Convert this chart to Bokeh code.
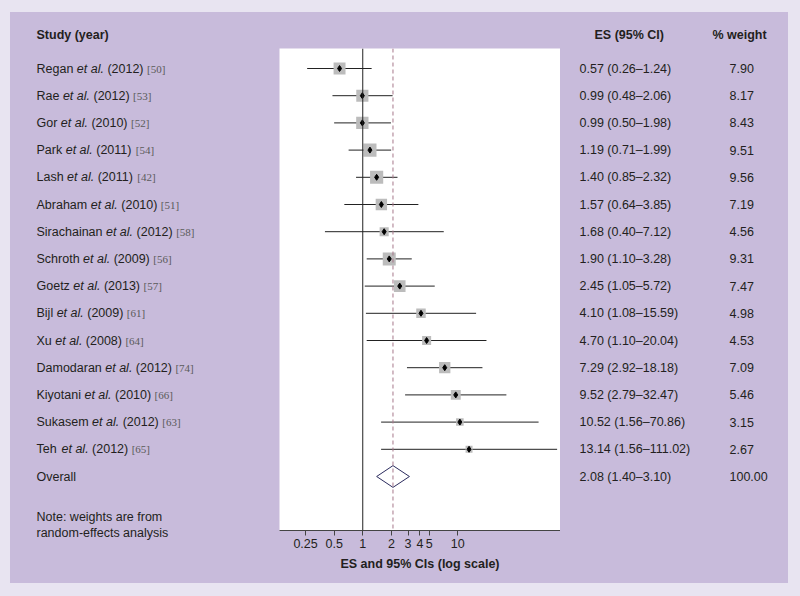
from bokeh.plotting import figure
from bokeh.layouts import row
from bokeh.models import ColumnDataSource, Range1d, FixedTicker, Span
from bokeh.core.properties import value
from bokeh.embed import file_html
from bokeh.resources import INLINE

# ---------------- data ----------------
authors = ["Regan", "Rae", "Gor", "Park", "Lash", "Abraham", "Sirachainan", "Schroth",
           "Goetz", "Bijl", "Xu", "Damodaran", "Kiyotani", "Sukasem", "Teh"]
years = [2012, 2012, 2010, 2011, 2011, 2010, 2012, 2009, 2013, 2009, 2008, 2012, 2010, 2012, 2012]
refs = [50, 53, 52, 54, 42, 51, 58, 56, 57, 61, 64, 74, 66, 63, 65]
es = [0.57, 0.99, 0.99, 1.19, 1.40, 1.57, 1.68, 1.90, 2.45, 4.10, 4.70, 7.29, 9.52, 10.52, 13.14]
ci_low = [0.26, 0.48, 0.50, 0.71, 0.85, 0.64, 0.40, 1.10, 1.05, 1.08, 1.10, 2.92, 2.79, 1.56, 1.56]
ci_high = [1.24, 2.06, 1.98, 1.99, 2.32, 3.85, 7.12, 3.28, 5.72, 15.59, 20.04, 18.18, 32.47, 70.86, 111.02]
weights = [7.90, 8.17, 8.43, 9.51, 9.56, 7.19, 4.56, 9.31, 7.47, 4.98, 4.53, 7.09, 5.46, 3.15, 2.67]
overall_es = 2.08
overall_low = 1.40
overall_high = 3.10
overall_weight = 100.00
tick_values = [0.25, 0.5, 1, 2, 3, 4, 5, 10]
tick_labels = ["0.25", "0.5", "1", "2", "3", "4", "5", "10"]

# ---------------- style ----------------
PANEL = "#c8bbdb"
OUTER = "#e8e4f1"
TXT = "#231f20"
FS = 12.5
SANS = "Liberation Sans"
SERIF = "Liberation Serif"

# Arial / Liberation Sans advance widths (per 1000 em)
AW = {" ": 278, ".": 278, "(": 333, ")": 333, "A": 667, "B": 667, "D": 722, "G": 778,
      "K": 667, "L": 556, "P": 667, "R": 722, "S": 667, "T": 611, "X": 667,
      "a": 556, "b": 556, "c": 500, "d": 556, "e": 556, "g": 556, "h": 556, "i": 222,
      "j": 222, "k": 500, "l": 222, "m": 833, "n": 556, "o": 556, "r": 333, "s": 500,
      "t": 278, "u": 556, "y": 500, "z": 500}
for d in "0123456789":
    AW[d] = 556


def tw(s, fs=FS):
    return sum(AW.get(c, 556) for c in s) * fs / 1000.0


n = len(authors)
rows = list(range(n))
overall_row = n

# page layout (pixels)
PANEL_L, PANEL_T, FRAME_L, FRAME_R, PANEL_R = 10, 12, 279, 560, 788
H = 571
ROW0_Y, ROW_STEP = 68.0, 27.2


def yrange_for(top, bottom):
    # rows -> page pixel mapping (top row at ROW0_Y)
    return Range1d((bottom - ROW0_Y) / ROW_STEP, (top - ROW0_Y) / ROW_STEP)


def side_fig(x0, x1):
    f = figure(width=x1 - x0, height=H, x_range=Range1d(x0, x1),
               y_range=yrange_for(PANEL_T, PANEL_T + H),
               x_axis_location=None, y_axis_location=None, toolbar_location=None,
               output_backend="svg", min_border=0, background_fill_color=PANEL,
               border_fill_color=PANEL, outline_line_color=None, frame_align=False)
    f.xgrid.visible = False
    f.ygrid.visible = False
    return f


# ---------------- middle (forest) ----------------
p = figure(width=FRAME_R - FRAME_L, height=H, x_axis_type="log",
           x_range=Range1d(0.133, 120.5), y_range=yrange_for(48, 530),
           y_axis_location=None, toolbar_location=None, output_backend="svg",
           min_border_left=0, min_border_right=0, min_border_top=36, min_border_bottom=53,
           background_fill_color="white", border_fill_color=PANEL,
           outline_line_color=None, frame_align=False)
p.xgrid.visible = False
p.ygrid.visible = False

ax = p.xaxis[0]
ax.ticker = FixedTicker(ticks=tick_values)
ax.major_label_overrides = {v: l for v, l in zip(tick_values, tick_labels)}
ax.minor_tick_line_color = None
ax.major_tick_out = 5
ax.major_tick_in = 0
ax.axis_line_color = "#444444"
ax.major_tick_line_color = "#444444"
ax.major_label_text_font = SANS
ax.major_label_text_font_size = "12.5px"
ax.major_label_text_color = TXT
ax.major_label_standoff = 3
ax.axis_label = "ES and 95% CIs (log scale)"
ax.axis_label_text_font = SANS
ax.axis_label_text_font_size = "12.5px"
ax.axis_label_text_font_style = "bold"
ax.axis_label_text_color = TXT
ax.axis_label_standoff = 6

p.add_layout(Span(location=1, dimension="height", line_color="#222222", line_width=1))
p.add_layout(Span(location=overall_es, dimension="height", line_color="#a6788a",
                  line_width=1, line_dash="4 3"))

src = ColumnDataSource(dict(y=rows, es=es, lo=ci_low, hi=ci_high,
                            size=[4.25 * (w ** 0.5) for w in weights]))
p.segment(x0="lo", x1="hi", y0="y", y1="y", source=src, line_color="#222222", line_width=1)
p.scatter(x="es", y="y", size="size", marker="square", source=src,
          fill_color="#bcbcbc", line_color=None)
p.scatter(x="es", y="y", size=6, marker="diamond", source=src,
          fill_color="black", line_color="black")
p.patch(x=[overall_low, overall_es, overall_high, overall_es],
        y=[overall_row, overall_row - 0.4, overall_row, overall_row + 0.4],
        fill_color=None, line_color="#2b2b5e", line_width=1)

# ---------------- left text column ----------------
left = side_fig(PANEL_L, FRAME_L)
X0 = 36
seg_a, seg_b, seg_c, seg_d = [], [], [], []
for a, yr in zip(authors, years):
    x1 = X0 + tw(a + " ")
    x2 = x1 + tw("et al.")
    seg_a.append(X0)
    seg_b.append(x1)
    seg_c.append(x2 + tw(" "))
    seg_d.append(x2 + tw(" (%d) " % yr))


def add_text(f, x, y, text, font=SANS, size="12.5px", style="normal", color=TXT):
    f.text(x=x, y=y, text=text, text_font=value(font), text_font_size=size,
           text_font_style=style, text_color=color, text_align="left",
           text_baseline="middle")


add_text(left, seg_a + [X0], rows + [overall_row], authors + ["Overall"])
add_text(left, seg_b, rows, ["et al."] * n, style="italic")
add_text(left, seg_c, rows, ["(%d)" % v for v in years])
add_text(left, seg_d, rows, ["[%d]" % v for v in refs], font=SERIF, size="11px",
         color="#5a5a5a")
add_text(left, [X0], [-1.25], ["Study (year)"], style="bold")
add_text(left, [X0, X0], [16.5, 17.06], ["Note: weights are from", "random-effects analysis"])

# ---------------- right text columns ----------------
right = side_fig(FRAME_R, PANEL_R)
es_text = ["%.2f (%.2f\u2013%.2f)" % (e, l, h) for e, l, h in zip(es, ci_low, ci_high)]
es_text.append("%.2f (%.2f\u2013%.2f)" % (overall_es, overall_low, overall_high))
wt_text = ["%.2f" % w for w in weights] + ["%.2f" % overall_weight]
add_text(right, [579] * (n + 1), rows + [overall_row], es_text)
add_text(right, [729] * (n + 1), rows + [overall_row], wt_text)
add_text(right, [594, 712], [-1.25, -1.25], ["ES (95% CI)", "% weight"], style="bold")

layout = row(left, p, right, spacing=0, margin=(PANEL_T, 0, 0, PANEL_L),
             styles={"background-color": PANEL})

html = file_html(layout, INLINE)
html = html.replace("</head>", "<style>body{background-color:%s;}</style></head>" % OUTER, 1)
open("out.html", "w").write(html)
